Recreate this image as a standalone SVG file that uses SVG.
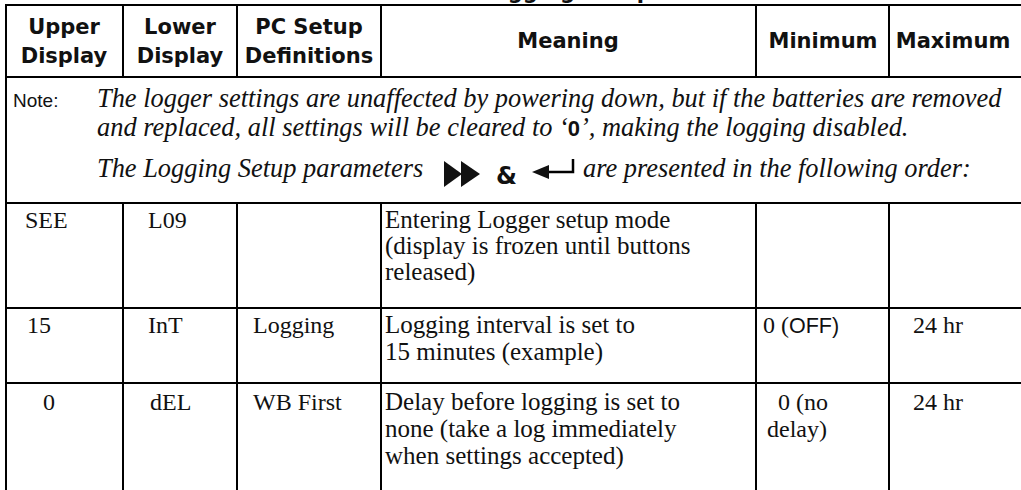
<svg xmlns="http://www.w3.org/2000/svg" width="1021" height="490" viewBox="0 0 1021 490">
<style>
.ln{stroke:#000;stroke-width:2;fill:none}
.hd{font-family:"DejaVu Sans","Liberation Sans",sans-serif;font-weight:bold;font-size:21px;fill:#111;text-anchor:middle}
.sr{font-family:"Liberation Serif","Times New Roman",serif;font-size:24px;fill:#111}
.mn{font-size:25px}
.it{font-family:"Liberation Serif","Times New Roman",serif;font-style:italic;font-size:26.4px;fill:#111}
.ns{font-family:"Liberation Sans",Arial,sans-serif;font-size:19px;fill:#111}
.sn{font-family:"Liberation Sans",Arial,sans-serif}
</style>
<rect width="1021" height="490" fill="#fff"/>
<text x="480" y="-1.5" class="hd" style="text-anchor:start">Logging Setup</text>
<g id="grid">
<line class="ln" x1="6" y1="5" x2="1021" y2="5"/>
<line class="ln" x1="6" y1="77" x2="1021" y2="77"/>
<line class="ln" x1="6" y1="203" x2="1021" y2="203"/>
<line class="ln" x1="6" y1="308" x2="1021" y2="308"/>
<line class="ln" x1="6" y1="383" x2="1021" y2="383"/>
<line class="ln" x1="6" y1="4" x2="6" y2="490"/>
<line class="ln" x1="123" y1="5" x2="123" y2="77"/>
<line class="ln" x1="237" y1="5" x2="237" y2="77"/>
<line class="ln" x1="381" y1="5" x2="381" y2="77"/>
<line class="ln" x1="756" y1="5" x2="756" y2="77"/>
<line class="ln" x1="889" y1="5" x2="889" y2="77"/>
<line class="ln" x1="123" y1="203" x2="123" y2="490"/>
<line class="ln" x1="237" y1="203" x2="237" y2="490"/>
<line class="ln" x1="381" y1="203" x2="381" y2="490"/>
<line class="ln" x1="756" y1="203" x2="756" y2="490"/>
<line class="ln" x1="889" y1="203" x2="889" y2="490"/>
</g>
<g id="header">
<text class="hd" x="64" y="34">Upper</text>
<text class="hd" x="64" y="63">Display</text>
<text class="hd" x="180" y="34">Lower</text>
<text class="hd" x="180" y="63">Display</text>
<text class="hd" x="309" y="34">PC Setup</text>
<text class="hd" x="309" y="63">Definitions</text>
<text class="hd" x="568" y="48">Meaning</text>
<text class="hd" x="823" y="48">Minimum</text>
<text class="hd" x="953" y="48">Maximum</text>
</g>
<g id="note">
<text class="ns" x="13" y="107">Note:</text>
<text class="it" x="97" y="107">The logger settings are unaffected by powering down, but if the batteries are removed</text>
<text class="it" x="97" y="136">and replaced, all settings will be cleared to ‘<tspan class="sn" style="font-style:normal;font-weight:bold;font-size:22px">0</tspan>’, making the logging disabled.</text>
<text class="it" x="97" y="177">The Logging Setup parameters</text>
<polygon points="444,161 462,174 444,187" fill="#111"/>
<polygon points="461,161 480,174 461,187" fill="#111"/>
<text x="496" y="184" class="hd" style="text-anchor:start;font-size:24px">&amp;</text>
<path d="M548,172 H573 V159" class="ln" style="stroke-width:2.5"/>
<polygon points="532,172 549,165 549,179" fill="#111"/>
<text class="it" x="583" y="177">are presented in the following order:</text>
</g>
<g id="row1">
<text class="sr" x="25" y="228">SEE</text>
<text class="sr" x="148" y="228">L09</text>
<text class="sr mn" x="385" y="228">Entering Logger setup mode</text>
<text class="sr mn" x="385" y="254">(display is frozen until buttons</text>
<text class="sr mn" x="385" y="280">released)</text>
</g>
<g id="row2">
<text class="sr" x="27" y="333">15</text>
<text class="sr" x="148" y="333">InT</text>
<text class="sr" x="253" y="333">Logging</text>
<text class="sr mn" x="385" y="333">Logging interval is set to</text>
<text class="sr mn" x="385" y="360">15 minutes (example)</text>
<text class="sr" x="763" y="333">0 (<tspan class="sn" style="font-size:21.5px">OFF)</tspan></text>
<text class="sr" x="913" y="333">24 hr</text>
</g>
<g id="row3">
<text class="sr" x="43" y="410">0</text>
<text class="sr" x="150" y="410">dEL</text>
<text class="sr" x="253" y="410">WB First</text>
<text class="sr mn" x="385" y="410">Delay before logging is set to</text>
<text class="sr mn" x="385" y="437">none (take a log immediately</text>
<text class="sr mn" x="385" y="464">when settings accepted)</text>
<text class="sr" x="778" y="410">0 (no</text>
<text class="sr" x="767" y="437">delay)</text>
<text class="sr" x="913" y="410">24 hr</text>
</g>
</svg>
